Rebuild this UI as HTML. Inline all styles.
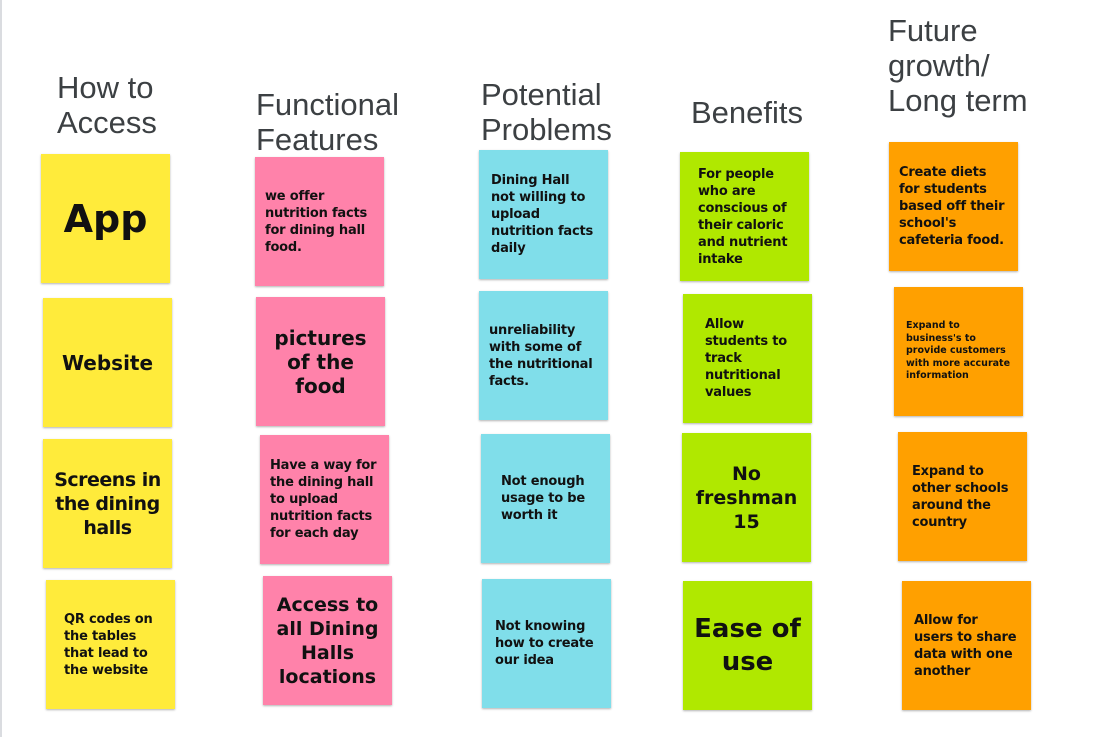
<!DOCTYPE html>
<html><head><meta charset="utf-8"><style>
body{margin:0;width:1113px;height:737px;background:#fff;position:relative;overflow:hidden;font-family:"Liberation Sans",sans-serif}
.bar{position:absolute;left:0;top:0;width:2px;height:737px;background:#dadce0}
.h{position:absolute;color:#3c4043;font-size:31px;line-height:35px}
.n{position:absolute;width:129px;height:129px;display:flex;align-items:center;box-shadow:0 1px 2px rgba(0,0,0,.3);font-family:"DejaVu Sans",sans-serif;font-weight:bold;color:#111;box-sizing:border-box;padding:0 10px}
.s{font-size:13px;line-height:17px;letter-spacing:-.2px}
.c{justify-content:center;text-align:center}
.y{background:#ffeb3b}.p{background:#ff82aa}.b{background:#80deea}.g{background:#b0e800}.o{background:#ffa000}
</style></head><body>
<div class="bar"></div>
<div class="h" style="left:57px;top:70px">How to<br>Access</div>
<div class="h" style="left:256px;top:87px">Functional<br>Features</div>
<div class="h" style="left:481px;top:77px">Potential<br>Problems</div>
<div class="h" style="left:691px;top:95px">Benefits</div>
<div class="h" style="left:888px;top:13px">Future<br>growth/<br>Long term</div>

<div class="n y c" style="left:41px;top:154px;font-size:38px">App</div>
<div class="n y c" style="left:43px;top:298px;font-size:20px">Website</div>
<div class="n y c" style="left:43px;top:439px;font-size:19px;line-height:24px;padding:0 4px;letter-spacing:-.5px">Screens in the dining halls</div>
<div class="n y s" style="left:46px;top:580px;padding-left:18px">QR codes on the tables that lead to the website</div>

<div class="n p s" style="left:255px;top:157px">we offer nutrition facts for dining hall food.</div>
<div class="n p c" style="left:256px;top:297px;font-size:20px;line-height:24px">pictures of the food</div>
<div class="n p s" style="left:260px;top:435px">Have a way for the dining hall to upload nutrition facts for each day</div>
<div class="n p c" style="left:263px;top:576px;font-size:19px;line-height:24px">Access to all Dining Halls locations</div>

<div class="n b s" style="left:479px;top:150px;padding-left:12px;padding-right:12px">Dining Hall<br>not willing to upload nutrition facts daily</div>
<div class="n b s" style="left:479px;top:291px">unreliability with some of the nutritional facts.</div>
<div class="n b s" style="left:481px;top:434px;padding-left:20px">Not enough usage to be worth it</div>
<div class="n b s" style="left:482px;top:579px;padding-left:13px">Not knowing how to create our idea</div>

<div class="n g s" style="left:680px;top:152px;padding-left:18px">For people who are conscious of their caloric and nutrient intake</div>
<div class="n g s" style="left:683px;top:294px;padding-left:22px">Allow students to track nutritional values</div>
<div class="n g c" style="left:682px;top:433px;font-size:19px;line-height:24px">No freshman 15</div>
<div class="n g c" style="left:683px;top:581px;font-size:26px;line-height:33px">Ease of use</div>

<div class="n o s" style="left:889px;top:142px">Create diets for students based off their school's cafeteria food.</div>
<div class="n o" style="left:894px;top:287px;font-size:9.5px;line-height:12.5px;padding-left:12px">Expand to business's to provide customers with more accurate information</div>
<div class="n o s" style="left:898px;top:432px;padding-left:14px">Expand to other schools around the country</div>
<div class="n o s" style="left:902px;top:581px;padding-left:12px;padding-right:8px">Allow for<br>users to share data with one another</div>
</body></html>
